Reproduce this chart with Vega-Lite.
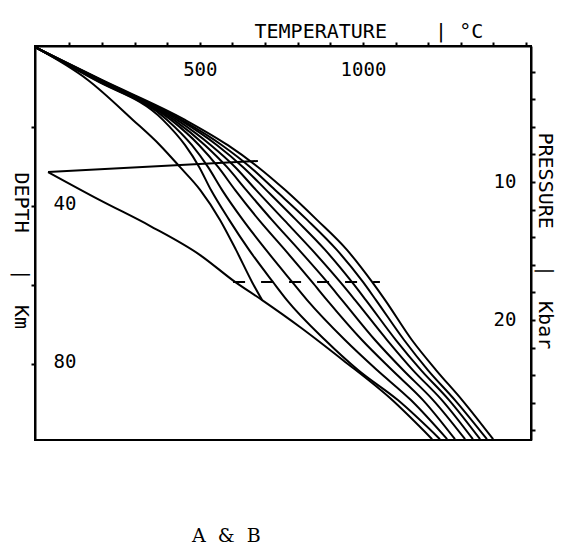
{
  "$schema": "https://vega.github.io/schema/vega-lite/v6.json",
  "width": 496,
  "height": 394,
  "autosize": {"type": "none"},
  "padding": {"left": 35, "top": 46, "right": 41, "bottom": 109},
  "background": "white",
  "config": {
    "view": {"stroke": "black", "strokeWidth": 2},
    "axis": {"domainColor": "black", "domainWidth": 2, "tickColor": "black", "tickWidth": 2, "labelColor": "black", "titleColor": "black", "labelFont": "DejaVu Sans Mono", "titleFont": "DejaVu Sans Mono", "grid": false, "labelFontSize": 19, "titleFontSize": 20, "titleFontWeight": "normal", "labelOverlap": false, "labelFlush": false, "labelBound": false}
  },
  "title": {"text": "A\u00a0\u00a0&\u00a0\u00a0B", "orient": "bottom", "anchor": "start", "offset": 99, "dx": 182, "font": "DejaVu Serif", "fontSize": 19, "fontWeight": "normal", "baseline": "alphabetic", "color": "black"},
  "datasets": {
    "curves": [
      {"c": "G8", "T": 0, "D": 0}, {"c": "G8", "T": 200, "D": 8.1}, {"c": "G8", "T": 455, "D": 18.2}, {"c": "G8", "T": 586, "D": 24.6}, {"c": "G8", "T": 678, "D": 30.1}, {"c": "G8", "T": 761, "D": 35.9}, {"c": "G8", "T": 859, "D": 43.5}, {"c": "G8", "T": 951, "D": 51.1}, {"c": "G8", "T": 1028, "D": 59.2}, {"c": "G8", "T": 1068, "D": 63.8}, {"c": "G8", "T": 1150, "D": 73.9}, {"c": "G8", "T": 1224, "D": 81.5}, {"c": "G8", "T": 1304, "D": 89.1}, {"c": "G8", "T": 1399, "D": 99},
      {"c": "G7", "T": 0, "D": 0}, {"c": "G7", "T": 197, "D": 8.1}, {"c": "G7", "T": 445, "D": 18.2}, {"c": "G7", "T": 568, "D": 24.6}, {"c": "G7", "T": 654, "D": 30.1}, {"c": "G7", "T": 730, "D": 35.9}, {"c": "G7", "T": 829, "D": 43.5}, {"c": "G7", "T": 920, "D": 51.1}, {"c": "G7", "T": 1000, "D": 59.2}, {"c": "G7", "T": 1040, "D": 63.8}, {"c": "G7", "T": 1126, "D": 73.9}, {"c": "G7", "T": 1199, "D": 81.5}, {"c": "G7", "T": 1282, "D": 89.1}, {"c": "G7", "T": 1380, "D": 99},
      {"c": "G6", "T": 0, "D": 0}, {"c": "G6", "T": 194, "D": 8.1}, {"c": "G6", "T": 439, "D": 18.2}, {"c": "G6", "T": 553, "D": 24.6}, {"c": "G6", "T": 632, "D": 30.1}, {"c": "G6", "T": 703, "D": 35.9}, {"c": "G6", "T": 795, "D": 43.5}, {"c": "G6", "T": 884, "D": 51.1}, {"c": "G6", "T": 966, "D": 59.2}, {"c": "G6", "T": 1009, "D": 63.8}, {"c": "G6", "T": 1101, "D": 73.9}, {"c": "G6", "T": 1178, "D": 81.5}, {"c": "G6", "T": 1264, "D": 89.1}, {"c": "G6", "T": 1359, "D": 99},
      {"c": "G5", "T": 0, "D": 0}, {"c": "G5", "T": 191, "D": 8.1}, {"c": "G5", "T": 430, "D": 18.2}, {"c": "G5", "T": 534, "D": 24.6}, {"c": "G5", "T": 608, "D": 30.1}, {"c": "G5", "T": 672, "D": 35.9}, {"c": "G5", "T": 758, "D": 43.5}, {"c": "G5", "T": 844, "D": 51.1}, {"c": "G5", "T": 930, "D": 59.2}, {"c": "G5", "T": 976, "D": 63.8}, {"c": "G5", "T": 1074, "D": 73.9}, {"c": "G5", "T": 1153, "D": 81.5}, {"c": "G5", "T": 1242, "D": 89.1}, {"c": "G5", "T": 1337, "D": 99},
      {"c": "G4", "T": 0, "D": 0}, {"c": "G4", "T": 188, "D": 8.1}, {"c": "G4", "T": 421, "D": 18.2}, {"c": "G4", "T": 516, "D": 24.6}, {"c": "G4", "T": 583, "D": 30.1}, {"c": "G4", "T": 642, "D": 35.9}, {"c": "G4", "T": 721, "D": 43.5}, {"c": "G4", "T": 804, "D": 51.1}, {"c": "G4", "T": 890, "D": 59.2}, {"c": "G4", "T": 936, "D": 63.8}, {"c": "G4", "T": 1037, "D": 73.9}, {"c": "G4", "T": 1123, "D": 81.5}, {"c": "G4", "T": 1215, "D": 89.1}, {"c": "G4", "T": 1313, "D": 99},
      {"c": "G3", "T": 0, "D": 0}, {"c": "G3", "T": 185, "D": 8.1}, {"c": "G3", "T": 412, "D": 18.2}, {"c": "G3", "T": 498, "D": 24.6}, {"c": "G3", "T": 556, "D": 30.1}, {"c": "G3", "T": 608, "D": 35.9}, {"c": "G3", "T": 681, "D": 43.5}, {"c": "G3", "T": 761, "D": 51.1}, {"c": "G3", "T": 844, "D": 59.2}, {"c": "G3", "T": 890, "D": 63.8}, {"c": "G3", "T": 997, "D": 73.9}, {"c": "G3", "T": 1089, "D": 81.5}, {"c": "G3", "T": 1184, "D": 89.1}, {"c": "G3", "T": 1282, "D": 99},
      {"c": "G2", "T": 0, "D": 0}, {"c": "G2", "T": 182, "D": 8.1}, {"c": "G2", "T": 400, "D": 18.2}, {"c": "G2", "T": 476, "D": 24.6}, {"c": "G2", "T": 525, "D": 30.1}, {"c": "G2", "T": 568, "D": 35.9}, {"c": "G2", "T": 632, "D": 43.5}, {"c": "G2", "T": 703, "D": 51.1}, {"c": "G2", "T": 783, "D": 59.2}, {"c": "G2", "T": 829, "D": 63.8}, {"c": "G2", "T": 945, "D": 73.9}, {"c": "G2", "T": 1043, "D": 81.5}, {"c": "G2", "T": 1147, "D": 89.1}, {"c": "G2", "T": 1258, "D": 99},
      {"c": "G1", "T": 0, "D": 0}, {"c": "G1", "T": 179, "D": 8.1}, {"c": "G1", "T": 387, "D": 18.2}, {"c": "G1", "T": 455, "D": 24.6}, {"c": "G1", "T": 498, "D": 30.1}, {"c": "G1", "T": 534, "D": 35.9}, {"c": "G1", "T": 590, "D": 43.5}, {"c": "G1", "T": 651, "D": 51.1}, {"c": "G1", "T": 724, "D": 59.2}, {"c": "G1", "T": 767, "D": 63.8}, {"c": "G1", "T": 884, "D": 73.9}, {"c": "G1", "T": 985, "D": 81.5}, {"c": "G1", "T": 1107, "D": 89.1}, {"c": "G1", "T": 1236, "D": 99},
      {"c": "S", "T": 0, "D": 0}, {"c": "S", "T": 157, "D": 8.1}, {"c": "S", "T": 295, "D": 18.2}, {"c": "S", "T": 378, "D": 24.6}, {"c": "S", "T": 439, "D": 30.1}, {"c": "S", "T": 501, "D": 35.9}, {"c": "S", "T": 562, "D": 43.5}, {"c": "S", "T": 611, "D": 51.1}, {"c": "S", "T": 660, "D": 59.2}, {"c": "S", "T": 691, "D": 63.8},
      {"c": "L", "T": 35, "D": 31.4}, {"c": "L", "T": 194, "D": 38.5}, {"c": "L", "T": 347, "D": 45.0}, {"c": "L", "T": 501, "D": 52.4}, {"c": "L", "T": 608, "D": 59.2}, {"c": "L", "T": 691, "D": 63.8}, {"c": "L", "T": 807, "D": 70.6}, {"c": "L", "T": 939, "D": 79.0}, {"c": "L", "T": 1083, "D": 88.6}, {"c": "L", "T": 1212, "D": 99},
      {"c": "B", "T": 35, "D": 31.4}, {"c": "B", "T": 678, "D": 28.6}
    ],
    "dash": [
      {"T": 602, "P": 17.25}, {"T": 1052, "P": 17.25}
    ]
  },
  "layer": [
    {
      "data": {"name": "curves"},
      "mark": {"type": "line", "color": "black", "strokeWidth": 2, "interpolate": "monotone"},
      "encoding": {
        "x": {
          "field": "T", "type": "quantitative",
          "scale": {"domain": [-5, 1515], "nice": false, "zero": false},
          "axis": {
            "orient": "top",
            "values": [100, 200, 300, 400, 500, 600, 700, 800, 900, 1000, 1100, 1200, 1300, 1400, 1500],
            "labelExpr": "datum.value == 500 ? '500' : (datum.value == 1000 ? '1000' : '')",
            "labelOverlap": false,
            "tickSize": 4,
            "labelPadding": -18,
            "labelBaseline": "top",
            "labelAlign": "center",
            "title": "TEMPERATURE\u00a0\u00a0\u00a0\u00a0|\u00a0°C",
            "titleX": 219, "titleY": -9, "titleAlign": "left", "titleBaseline": "alphabetic", "titleAngle": 0
          }
        },
        "y": {
          "field": "D", "type": "quantitative",
          "scale": {"domain": [-0.5, 99.2], "reverse": true, "nice": false, "zero": false},
          "axis": {
            "orient": "left",
            "values": [20, 40, 60, 80],
            "labelExpr": "datum.value == 40 ? '40' : (datum.value == 80 ? '80' : '')",
            "labelOverlap": false,
            "tickSize": 4,
            "labelPadding": -22,
            "labelAlign": "left",
            "labelBaseline": "middle",
            "labelOffset": -3,
            "title": "DEPTH\u00a0\u00a0\u00a0|\u00a0\u00a0Km",
            "titleAngle": 90, "titleX": -21, "titleY": 126, "titleAlign": "left", "titleBaseline": "alphabetic"
          }
        },
        "detail": {"field": "c"},
        "order": {"field": "T", "type": "quantitative"}
      }
    },
    {
      "data": {"name": "dash"},
      "mark": {"type": "line", "color": "black", "strokeWidth": 2, "strokeDash": [12, 16]},
      "encoding": {
        "x": {
          "field": "T", "type": "quantitative",
          "axis": {
            "orient": "top",
            "values": [100, 200, 300, 400, 500, 600, 700, 800, 900, 1000, 1100, 1200, 1300, 1400, 1500],
            "labelExpr": "datum.value == 500 ? '500' : (datum.value == 1000 ? '1000' : '')",
            "labelOverlap": false,
            "tickSize": 4,
            "labelPadding": -18,
            "labelBaseline": "top",
            "labelAlign": "center",
            "title": "TEMPERATURE\u00a0\u00a0\u00a0\u00a0|\u00a0°C",
            "titleX": 219, "titleY": -9, "titleAlign": "left", "titleBaseline": "alphabetic", "titleAngle": 0
          }
        },
        "y": {
          "field": "P", "type": "quantitative",
          "scale": {"domain": [0.15, 28.7], "reverse": true, "nice": false, "zero": false},
          "axis": {
            "orient": "right",
            "values": [2, 4, 6, 8, 10, 12, 14, 16, 18, 20, 22, 24, 26, 28],
            "labelExpr": "datum.value == 10 ? '10' : (datum.value == 20 ? '20' : '')",
            "labelOverlap": false,
            "tickSize": 4,
            "labelPadding": -19,
            "labelAlign": "right",
            "labelBaseline": "middle",
            "title": "PRESSURE\u00a0\u00a0\u00a0|\u00a0\u00a0Kbar",
            "titleAngle": 90, "titleX": 7, "titleY": 86, "titleAlign": "left", "titleBaseline": "alphabetic"
          }
        }
      }
    }
  ],
  "resolve": {"scale": {"y": "independent"}, "axis": {"y": "independent"}}
}
